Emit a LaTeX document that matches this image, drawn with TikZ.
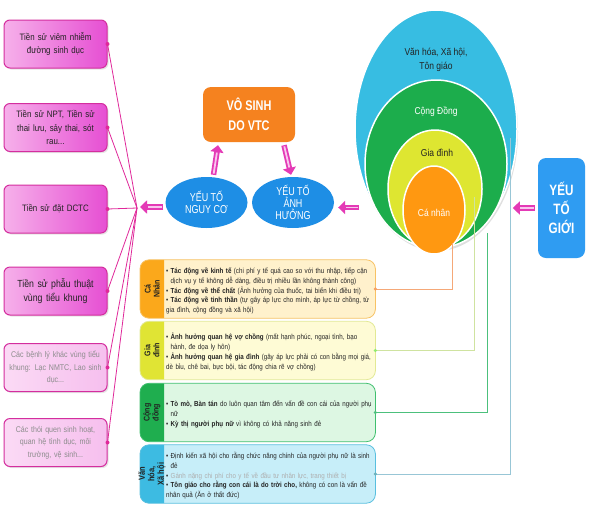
\documentclass[tikz,border=0pt]{standalone}
\usepackage{fontspec}
\setmainfont{Liberation Sans}[FakeStretch=0.85]
\newfontfamily\condb{Liberation Sans}[FakeStretch=0.78]
\usetikzlibrary{shapes.geometric,calc,backgrounds,shadows,arrows.meta}

\definecolor{pkL}{HTML}{F6B0EA}
\definecolor{pkR}{HTML}{E64FD3}
\definecolor{pkBorder}{HTML}{D42E9E}
\definecolor{pkLightL}{HTML}{FBDAF5}
\definecolor{pkLightR}{HTML}{F6BFEE}
\definecolor{pinkline}{HTML}{E0289A}
\definecolor{arrowpink}{HTML}{E43AB6}
\definecolor{arrowlight}{HTML}{F9C6EE}
\definecolor{ovalblue}{HTML}{1E8EE5}
\definecolor{vsorange}{HTML}{F5821F}
\definecolor{outerblue}{HTML}{37BDE2}
\definecolor{ringgreen}{HTML}{1CAD4C}
\definecolor{ringyellow}{HTML}{DEE631}
\definecolor{coreorange}{HTML}{FF9811}
\definecolor{gioiblue}{HTML}{2F9CF2}
\definecolor{cntab}{HTML}{FBA81B}
\definecolor{cnfill}{HTML}{FFF1CC}
\definecolor{cnborder}{HTML}{F7C264}
\definecolor{cnline}{HTML}{F5A878}
\definecolor{gdtab}{HTML}{E0E434}
\definecolor{gdfill}{HTML}{FEFBD5}
\definecolor{gdborder}{HTML}{E2E994}
\definecolor{gdline}{HTML}{CFE3A0}
\definecolor{cdtab}{HTML}{1FAE4F}
\definecolor{cdfill}{HTML}{DDF7E3}
\definecolor{cdborder}{HTML}{3FBF6E}
\definecolor{cdline}{HTML}{4CC07C}
\definecolor{vhtab}{HTML}{3DBBE2}
\definecolor{vhfill}{HTML}{C7EEF9}
\definecolor{vhborder}{HTML}{59BFDF}
\definecolor{vhline}{HTML}{98C6D6}
\definecolor{textdark}{HTML}{222222}
\definecolor{greytext}{HTML}{8C8C8C}

\newcommand\bpt[1]{\par\noindent\hangindent=4.5pt\hangafter=1\makebox[4.5pt][l]{•}#1}

\newcommand\tabbox[4]{%
  \begin{scope}[on background layer]
    \fill[#2, rounded corners=9pt] ($(#1.north west)+(-24,0)$) rectangle (#1.south east);
    \begin{scope}
      \clip ($(#1.north west)+(-30,-3)$) rectangle ($(#1.south west)+(0,3)$);
      \fill[#3, rounded corners=9pt] ($(#1.north west)+(-24,0)$) rectangle ($(#1.south west)+(20,0)$);
    \end{scope}
    \draw[#4, line width=0.8pt, rounded corners=9pt] ($(#1.north west)+(-24,0)$) rectangle (#1.south east);
  \end{scope}}

\begin{document}
\begin{tikzpicture}[x=1pt,y=-1pt,
  leftbox/.style={rectangle, rounded corners=6pt, draw=pkBorder, line width=1pt,
    left color=pkL, right color=pkR, minimum width=103pt, minimum height=48pt,
    text width=97pt, align=center, inner sep=2pt, text=textdark,
    font=\fontsize{9.3}{13.5}\selectfont,
    drop shadow={opacity=0.2, shadow xshift=1.5pt, shadow yshift=-1.5pt}},
  leftboxlight/.style={leftbox, left color=pkLightL, right color=pkLightR,
    text=greytext, font=\fontsize{8.3}{12.5}\selectfont},
  pinkconn/.style={draw=pinkline, line width=0.8pt},
  oval/.style={ellipse, minimum width=82pt, minimum height=51pt, inner sep=0pt,
    fill=ovalblue, text=white, align=center, font=\condb\fontsize{11.5}{12}\selectfont},
  vsbox/.style={rectangle, rounded corners=8pt, fill=vsorange, minimum width=92pt,
    minimum height=55pt, text=white, align=center,
    font=\condb\bfseries\fontsize{14}{20}\selectfont},
  ring/.style={ellipse, draw=white, line width=1.5pt, inner sep=0pt},
  ringlabel/.style={align=center, font=\fontsize{10}{14}\selectfont},
  bigarrow/.style={draw=arrowpink, line width=5.5pt, -{Triangle[length=7pt,width=13pt]},
    postaction={draw=arrowlight, line width=1.8pt, -, shorten >=7.5pt, shorten <=1.2pt}},
  infotext/.style={anchor=west, text width=207pt, minimum height=58pt, inner sep=2pt,
    align=left, text=textdark, font=\fontsize{7.3}{9.8}\selectfont},
  tablabel/.style={rotate=90, align=center, text=textdark, inner sep=0pt,
    font=\bfseries\fontsize{8.3}{9}\selectfont},
  dotline/.style={line width=0.8pt}
]
\useasboundingbox (0,0) rectangle (594,523);
\begin{scope}[on background layer]
  \fill[white] (0,0) rectangle (594,523);
\end{scope}

% left boxes
\node[leftbox] (b1) at (55.5,44) {Tiền sử viêm nhiễm\\đường sinh dục};
\node[leftbox] (b2) at (55.5,127.5) {Tiền sử NPT, Tiền sử\\thai lưu, sảy thai, sót\\rau...};
\node[leftbox] (b3) at (55.5,209) {Tiền sử đặt DCTC};
\node[leftbox, font=\fontsize{10.3}{13.5}\selectfont] (b4) at (55.5,291) {Tiền sử phẫu thuật\\vùng tiểu khung};
\node[leftboxlight] (b5) at (55.5,367.5) {Các bệnh lý khác vùng tiểu\\khung: Lạc NMTC, Lao sinh\\dục...};
\node[leftboxlight] (b6) at (55.5,442.5) {Các thói quen sinh hoạt,\\quan hệ tình dục, môi\\trường, vệ sinh...};

\coordinate (hub) at (137,208);
\foreach \b in {b1,b2,b3,b4,b5,b6}{
  \draw[pinkconn] (hub) -- (\b.east);
  \fill[pinkline] (\b.east) circle (2pt);
}

% centre
\node[vsbox] (vosinh) at (249,114.5) {VÔ SINH\\DO VTC};
\node[oval] (nguyco) at (206.5,202.5) {YẾU TỐ\\NGUY CƠ};
\node[oval] (anhhuong) at (293,202.5) {YẾU TỐ\\ẢNH\\HƯỞNG};

% nested ellipses
\node[ring, minimum width=162pt, minimum height=238pt, fill=outerblue,
  drop shadow={opacity=0.25, shadow xshift=1pt, shadow yshift=-3pt}] (rvh) at (436,129) {};
\node[ring, minimum width=142pt, minimum height=168pt, fill=ringgreen] (rcd) at (436,164) {};
\node[ring, minimum width=94pt, minimum height=118pt, fill=ringyellow] (rgd) at (435,189) {};
\node[ring, minimum width=62pt, minimum height=88pt, fill=coreorange] (rcn) at (434,210) {};

% yeu to gioi
\node[rectangle, rounded corners=8pt, fill=gioiblue, minimum width=47pt, minimum height=100pt,
  text=white, align=center, font=\condb\bfseries\fontsize{15}{19}\selectfont] (gioi) at (561.5,208) {YẾU\\TỐ\\GIỚI};

% bottom boxes
\node[infotext] (cn) at (164,289) {%
\bpt{\textbf{Tác động về kinh tế} (chi phí y tế quá cao so với thu nhập, tiếp cận dịch vụ y tế không dễ dàng, điều trị nhiều lần không thành công)}
\bpt{\textbf{Tác động về thể chất} (Ảnh hưởng của thuốc, tai biến khi điều trị)}
\bpt{\textbf{Tác động về tinh thần} (tự gây áp lực cho mình, áp lực từ chồng, từ gia đình, cộng đồng và xã hội)}};
\tabbox{cn}{cnfill}{cntab}{cnborder}
\node[tablabel] (cntab) at ($(cn.west)+(-12,0)$) {Cá\\Nhân};

\node[infotext] (gd) at (164,350.5) {%
\bpt{\textbf{Ảnh hưởng quan hệ vợ chồng} (mất hạnh phúc, ngoại tình, bạo hành, đe dọa ly hôn)}
\bpt{\textbf{Ảnh hưởng quan hệ gia đình} (gây áp lực phải có con bằng mọi giá, dè bỉu, chê bai, bực bội, tác động chia rẽ vợ chồng)}};
\tabbox{gd}{gdfill}{gdtab}{gdborder}
\node[tablabel] (gdtabl) at ($(gd.west)+(-12,0)$) {Gia\\đình};

\node[infotext] (cd) at (164,412.5) {%
\bpt{\textbf{Tò mò, Bàn tán} do luôn quan tâm đến vấn đề con cái của người phụ nữ}
\bpt{\textbf{Kỳ thị người phụ nữ} vì không có khả năng sinh đẻ}};
\tabbox{cd}{cdfill}{cdtab}{cdborder}
\node[tablabel] (cdtabl) at ($(cd.west)+(-12,0)$) {Cộng\\đồng};

\node[infotext] (vhb) at (164,474) {%
\bpt{Định kiến xã hội cho rằng chức năng chính của người phụ nữ là sinh đẻ}
\bpt{\textcolor{greytext!70}{Gánh nặng chi phí cho y tế về đầu tư nhân lực, trang thiết bị}}
\bpt{\textbf{Tôn giáo cho rằng con cái là do trời cho,} không có con là vấn đề nhân quả (Ăn ở thất đức)}};
\tabbox{vhb}{vhfill}{vhtab}{vhborder}
\node[tablabel, font=\bfseries\fontsize{8.8}{9.5}\selectfont] (vhtabl) at ($(vhb.west)+(-12,0)$) {Văn\\hóa,\\Xã hội};

% connectors from bottom boxes into the ellipses
\coordinate (cnend) at (452,243);
\coordinate (gdend) at (474,197);
\coordinate (cdend) at (487,233);
\coordinate (vhend) at (510,138);
\draw[dotline, cnline] (cn.east) -| (cnend);
\draw[dotline, gdline] (gd.east) -| (gdend);
\draw[dotline, cdline] (cd.east) -| (cdend);
\draw[dotline, vhline] (vhb.east) -| (vhend);
\fill[cnline!80!orange] (cn.east) circle (1.8pt);
\fill[gdline!70!green] (gd.east) circle (1.8pt);
\fill[cdline] (cd.east) circle (1.8pt);
\fill[vhline!70!teal] (vhb.east) circle (1.8pt);

% ellipse labels
\node[ringlabel, text=textdark] (lvh) at (436,60) {Văn hóa, Xã hội,\\Tôn giáo};
\node[ringlabel, text=white] (lcd) at (436,112) {Cộng Đồng};
\node[ringlabel, text=textdark] (lgd) at (437,153) {Gia đình};
\node[ringlabel, text=white] (lcn) at (434,213) {Cá nhân};

% big arrows
\draw[bigarrow] ($(nguyco.west)+(-2,4.5)$) -- ($(hub)+(3,-1)$);
\draw[bigarrow] ($(nguyco.north)+(7,-2)$) -- ($(vosinh.south)+(-31,3)$);
\draw[bigarrow] ($(vosinh.south)+(35,3)$) -- ($(anhhuong.north)+(-2,-2)$);
\draw[bigarrow] ($(anhhuong.east)+(25,5)$) -- ($(anhhuong.east)+(4,5)$);
\draw[bigarrow] ($(gioi.west)+(-3,0)$) -- ($(gioi.west)+(-25,0)$);
\end{tikzpicture}
\end{document}
